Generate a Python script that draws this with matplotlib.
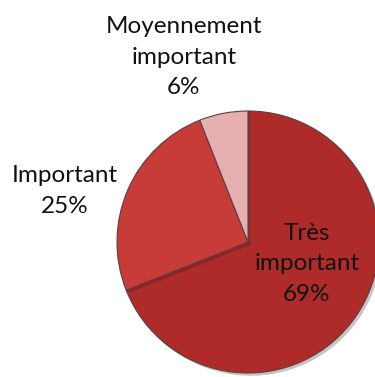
import matplotlib.pyplot as plt
import matplotlib.patheffects as pe

# données
categories = ['Très\nimportant', 'Important', 'Moyennement\nimportant']
pourcentages = [69, 25, 6]
couleurs = ['#AE2B2A', '#C73B38', '#E6AFB0']

plt.rcParams['font.family'] = ['Lato', 'DejaVu Sans']

fig = plt.figure(figsize=(3.75, 3.77), dpi=100)
ax = fig.add_axes([0, 0, 1, 1])

# centre du camembert vers (248, 242) px, rayon ~131 px
r = 131
cx, cy = 248, 242
ax.set_xlim(-cx / r, (375 - cx) / r)
ax.set_ylim(-(377 - cy) / r, cy / r)

wedges, _ = ax.pie(pourcentages, colors=couleurs, startangle=90, counterclock=False,
                   radius=1, center=(0, 0), frame=True,
                   wedgeprops=dict(edgecolor='#5a4040', linewidth=0.8))
for w in wedges:
    w.set_path_effects([pe.SimplePatchShadow(offset=(2, -2), alpha=0.25), pe.Normal()])

# positions des étiquettes (px)
pos_labels = [(307, 264), (65, 191), (184, 57)]
for cat, pct, (px, py) in zip(categories, pourcentages, pos_labels):
    ax.text((px - cx) / r, (cy - py) / r, f"{cat}\n{pct}%", ha='center', va='center',
            fontsize=17.5, linespacing=1.55, color='#111111')

ax.set_aspect('equal')
ax.axis('off')
fig.savefig('out.png', dpi=100)
